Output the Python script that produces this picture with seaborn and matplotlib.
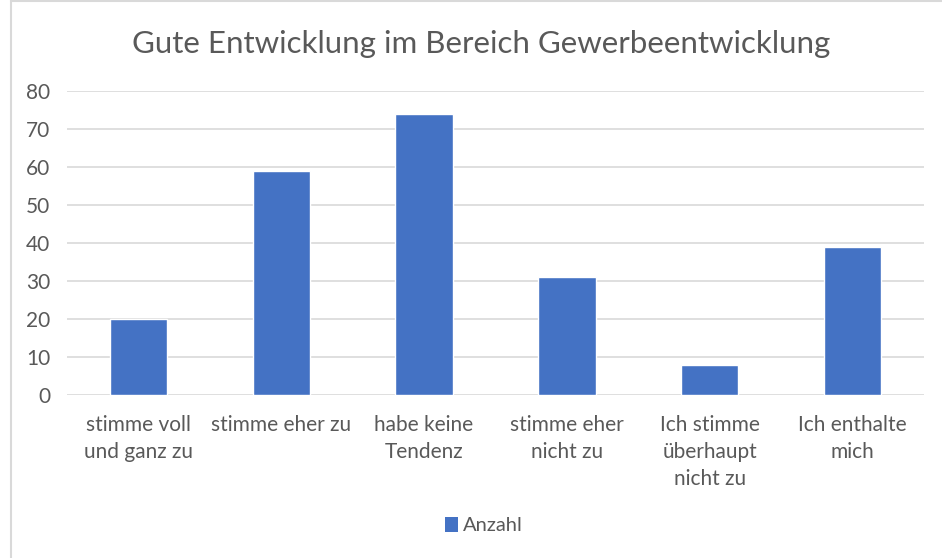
import matplotlib
matplotlib.use("Agg")
import matplotlib.pyplot as plt
from matplotlib.lines import Line2D
from matplotlib.patches import Patch
import seaborn as sns
import pandas as pd

categories = [
    "stimme voll\nund ganz zu",
    "stimme eher zu",
    "habe keine\nTendenz",
    "stimme eher\nnicht zu",
    "Ich stimme\nüberhaupt\nnicht zu",
    "Ich enthalte\nmich",
]
anzahl = [20, 59, 74, 31, 8, 39]
y_ticks = [0, 10, 20, 30, 40, 50, 60, 70, 80]
title = "Gute Entwicklung im Bereich Gewerbeentwicklung"
series_name = "Anzahl"

bar_color = "#4472C4"
text_color = "#595959"
grid_color = "#D9D9D9"

sns.set_theme(style="white")
plt.rcParams["font.family"] = ["Lato", "DejaVu Sans"]

df = pd.DataFrame({"Kategorie": categories, series_name: anzahl})

fig = plt.figure(figsize=(9.42, 5.58), dpi=100)
ax = fig.add_axes([0.071, 0.292, 0.910, 0.545])

sns.barplot(data=df, x="Kategorie", y=series_name, color=bar_color,
            width=0.4, saturation=1, ax=ax, zorder=3)

ax.set_ylim(0, 80)
ax.set_yticks(y_ticks)
ax.set_xlim(-0.5, len(categories) - 0.5)
ax.yaxis.grid(True, color=grid_color, linewidth=1.2, zorder=0)
ax.set_axisbelow(True)
for s in ax.spines.values():
    s.set_visible(False)
ax.set_xlabel("")
ax.set_ylabel("")
ax.tick_params(axis="both", length=0, colors=text_color, labelsize=15)
ax.tick_params(axis="x", pad=14.5)
ax.tick_params(axis="y", pad=12)
for lbl in ax.get_xticklabels():
    lbl.set_linespacing(1.42)

fig.text(0.511, 0.922, title, ha="center", va="center",
         fontsize=22.5, color=text_color)

handle = Patch(facecolor=bar_color, edgecolor="none")
fig.legend([handle], [series_name], loc="center", bbox_to_anchor=(0.514, 0.058),
           frameon=False, fontsize=14.5, handlelength=0.65, handleheight=0.8,
           handletextpad=0.25, labelcolor=text_color)

# chart frame edges
fig.add_artist(Line2D([10.5 / 942, 10.5 / 942], [0, 1], color="#D9D9D9",
                      linewidth=1.5, transform=fig.transFigure))
fig.add_artist(Line2D([10.5 / 942, 1], [1 - 1 / 558, 1 - 1 / 558], color="#D9D9D9",
                      linewidth=1.5, transform=fig.transFigure))

fig.savefig("out.png", dpi=100)
